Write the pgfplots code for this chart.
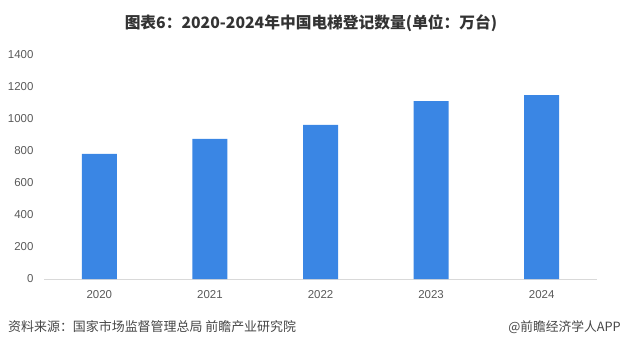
\documentclass[border=0pt]{standalone}
\usepackage{fontspec}
\setmainfont{Noto Sans CJK SC}
\newfontfamily\numfont{Liberation Sans}
\usepackage{pgfplots}
\pgfplotsset{compat=1.18}
\definecolor{barblue}{RGB}{58,134,228}
\definecolor{ticktext}{RGB}{89,89,89}
\definecolor{axisgray}{RGB}{217,217,217}
\definecolor{titletext}{RGB}{51,51,51}
\definecolor{foottext}{RGB}{70,70,70}
\begin{document}
\begin{tikzpicture}[x=1bp,y=1bp]
\path[use as bounding box] (0,0) rectangle (623,353);
\begin{axis}[
  at={(44bp,74bp)}, anchor=south west,
  scale only axis, width=553bp, height=224.3bp,
  xmin=-0.5, xmax=4.5, ymin=0, ymax=1400,
  ytick={0,200,...,1400},
  xtick=data, xticklabels={2020,2021,2022,2023,2024},
  axis lines*=left,
  x axis line style={axisgray, line width=0.8bp},
  y axis line style={draw=none},
  major tick length=0pt,
  tick label style={font=\numfont\fontsize{11.5}{12}\selectfont, text=ticktext},
  /pgf/number format/assume math mode=true,
  /pgf/number format/1000 sep={},
  yticklabel style={xshift=-7bp},
  xticklabel style={yshift=-8bp},
  ybar, bar width=35bp,
]
\addplot[fill=barblue, draw=none] coordinates {(0,781) (1,874) (2,962) (3,1111) (4,1148)};
\end{axis}
\node[font=\bfseries\fontsize{15.8}{18}\selectfont, text=titletext] at (311,330) {图表6：2020-2024年中国电梯登记数量(单位：万台)};
\node[anchor=west, inner sep=0pt, font=\fontsize{13}{14}\selectfont, text=foottext] at (8,26) {资料来源：国家市场监督管理总局 前瞻产业研究院};
\node[anchor=east, inner sep=0pt, font=\fontsize{12.8}{14}\selectfont, text=foottext] at (621,26) {@前瞻经济学人APP};
\end{tikzpicture}
\end{document}
